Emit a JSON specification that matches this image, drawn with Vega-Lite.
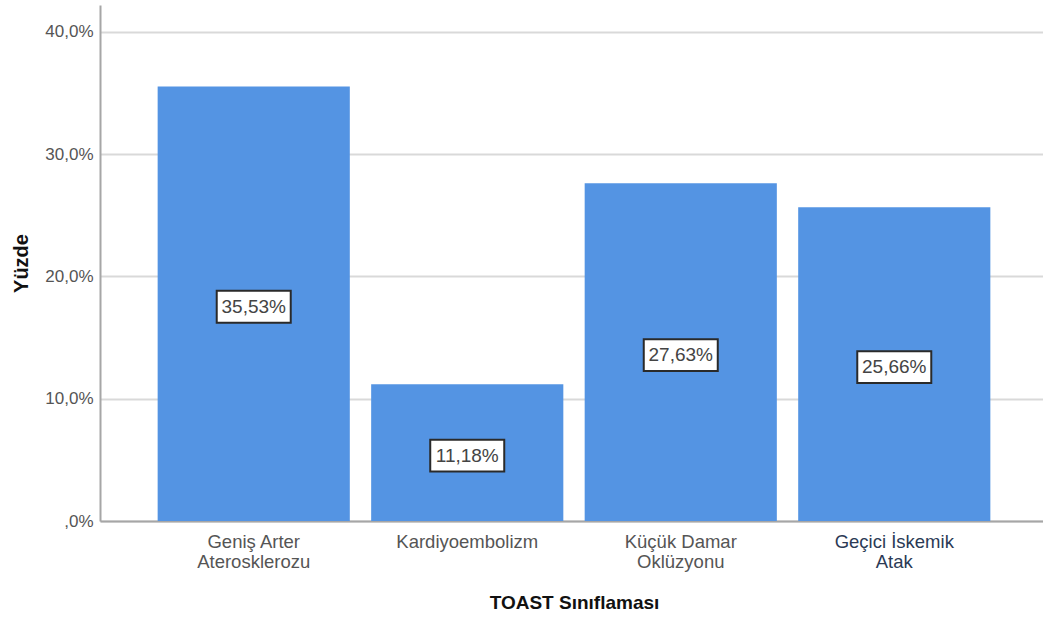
{
  "$schema": "https://vega.github.io/schema/vega-lite/v6.json",
  "width": 948,
  "height": 516,
  "autosize": "none",
  "padding": {"left": 100, "top": 5, "right": 0, "bottom": 98},
  "background": "white",
  "config": {"view": {"stroke": null}, "font": "Liberation Sans"},
  "data": {
    "values": [
      {"kategori": "Geniş Arter Aterosklerozu", "yuzde": 35.53, "etiket": "35,53%"},
      {"kategori": "Kardiyoembolizm", "yuzde": 11.18, "etiket": "11,18%"},
      {"kategori": "Küçük Damar Oklüzyonu", "yuzde": 27.63, "etiket": "27,63%"},
      {"kategori": "Geçici İskemik Atak", "yuzde": 25.66, "etiket": "25,66%"}
    ]
  },
  "encoding": {
    "x": {
      "field": "kategori",
      "type": "nominal",
      "sort": null,
      "scale": {"paddingInner": 0.1, "paddingOuter": 0.27},
      "axis": {
        "title": "TOAST Sınıflaması",
        "titleFontSize": 19,
        "titleFontWeight": "bold",
        "titleColor": "#111",
        "titlePadding": 23,
        "labelAngle": 0,
        "labelFontSize": 18.5,
        "labelColor": {"condition": {"test": "datum.value == 'Geçici İskemik Atak'", "value": "#2b3a55"}, "value": "#555"},
        "labelLineHeight": 20,
        "labelPadding": 11,
        "labelExpr": "datum.value == 'Geniş Arter Aterosklerozu' ? ['Geniş Arter', 'Aterosklerozu'] : datum.value == 'Küçük Damar Oklüzyonu' ? ['Küçük Damar', 'Oklüzyonu'] : datum.value == 'Geçici İskemik Atak' ? ['Geçici İskemik', 'Atak'] : datum.value",
        "ticks": false,
        "domainColor": "#a6a6a6",
        "domainWidth": 2,
        "grid": false
      }
    }
  },
  "resolve": {"scale": {"y": "independent"}},
  "layer": [
    {
      "mark": {"type": "bar", "color": "#5494e3"},
      "encoding": {
        "y": {
          "field": "yuzde",
          "type": "quantitative",
          "scale": {"domain": [0, 42.2], "nice": false},
          "axis": {
            "title": "Yüzde",
            "titleFontSize": 20,
            "titleFontWeight": "bold",
            "titleColor": "#111",
            "titlePadding": 13,
            "values": [0, 10, 20, 30, 40],
            "labelExpr": "datum.value == 0 ? ',0%' : replace(format(datum.value, '.1f'), '.', ',') + '%'",
            "labelFontSize": 17,
            "labelColor": "#555",
            "labelPadding": 7,
            "ticks": false,
            "domainColor": "#a6a6a6",
            "domainWidth": 2,
            "gridColor": "#d9d9d9",
            "gridWidth": 2
          }
        }
      }
    },
    {
      "mark": {"type": "point", "shape": "M-1,-0.43H1V0.43H-1Z", "size": 5476, "filled": true, "fill": "white", "stroke": "#2a2a2a", "strokeWidth": 2, "opacity": 1, "yOffset": 3},
      "encoding": {
        "y": {"field": "yuzde", "type": "quantitative", "scale": {"domain": [0, 84.4], "nice": false}, "axis": null}
      }
    },
    {
      "mark": {"type": "text", "fontSize": 19, "color": "#444", "baseline": "middle", "align": "center", "yOffset": 3},
      "encoding": {
        "y": {"field": "yuzde", "type": "quantitative", "scale": {"domain": [0, 84.4], "nice": false}, "axis": null},
        "text": {"field": "etiket"}
      }
    }
  ]
}
